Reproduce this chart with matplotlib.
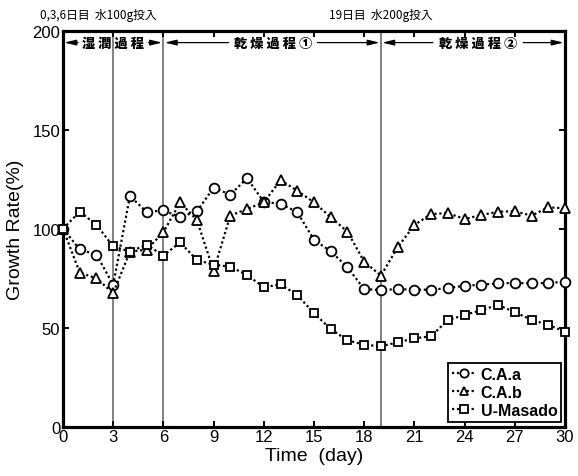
import numpy as np
import matplotlib
matplotlib.use("Agg")
import matplotlib.pyplot as plt

plt.rcParams['font.family'] = ['Liberation Sans', 'Noto Sans CJK JP', 'DejaVu Sans']

# data
days = np.arange(0, 31)
ca_a = [100, 89.5, 86.9, 71.7, 116.5, 108.4, 109.2, 105.9, 108.7, 120.7, 117.2,
        125.5, 113.5, 112.6, 108.4, 94.3, 88.6, 80.5, 69.5, 69.0, 69.5,
        69.2, 69.2, 70.0, 71.2, 71.7, 72.4, 72.6, 72.4, 72.6, 73.2]
ca_b = [100, 77.8, 74.9, 67.5, 88.4, 89.4, 98.2, 113.3, 104.4, 78.8, 106.6,
        110.0, 113.3, 124.5, 119.2, 113.3, 105.8, 98.5, 83.3, 76.3, 90.6,
        101.9, 107.4, 107.9, 104.9, 106.9, 108.6, 108.8, 106.6, 110.8, 110.3]
u_masado = [100, 108.6, 101.9, 91.1, 88.4, 91.9, 86.4, 93.1, 84.2, 81.8, 80.8,
            76.6, 70.4, 71.9, 66.5, 57.3, 49.3, 43.6, 41.4, 40.6, 42.6,
            44.6, 45.7, 53.9, 56.4, 58.9, 61.5, 57.8, 54.0, 51.4, 48.0]

series_names = ['C.A.a', 'C.A.b', 'U-Masado']
markers = ['o', '^', 's']
marker_sizes = [7, 6.8, 5.8]
water_days = [3, 6, 19]

phase_labels = ['湿 潤 過 程', '乾 燥 過 程 ①', '乾 燥 過 程 ②']
phase_bounds = [(0, 6), (6, 19), (19, 30)]
phase_centers = [3.0, 12.55, 24.8]
phase_halfw = [2.1, 2.65, 2.7]

fig = plt.figure(figsize=(5.78, 4.77), dpi=100)
ax = fig.add_axes([0.109, 0.1034, 0.8685, 0.8301])

for d in water_days:
    ax.axvline(d, color='#777777', lw=1.3, zorder=1)

for vals, name, m, ms in zip([ca_a, ca_b, u_masado], series_names, markers, marker_sizes):
    ax.plot(days, vals, linestyle=(0, (1, 1.2)), color='black', lw=1.6, marker=m, ms=ms,
            mfc='white', mec='black', mew=1.3, label=name, zorder=3,
            clip_on=False)

ax.set_xlim(0, 30)
ax.set_ylim(0, 200)
ax.set_xticks(np.arange(0, 31, 3))
ax.set_yticks([0, 50, 100, 150, 200])
ax.tick_params(direction='in', top=True, right=True, length=4.5, width=1.4,
               labelsize=12, pad=2)
for s in ax.spines.values():
    s.set_linewidth(2.3)

ax.set_xlabel('Time  (day)', fontsize=14, labelpad=2)
ax.set_ylabel('Growth Rate(%)', fontsize=14, labelpad=6)

# phase labels with arrows
ya = 194
for lab, (a, b), c, hw in zip(phase_labels, phase_bounds, phase_centers, phase_halfw):
    ax.text(c, ya, lab, ha='center', va='center', fontsize=9.5, fontweight='heavy',
            family=['Noto Sans CJK JP', 'DejaVu Sans'], zorder=4)
    for x0, x1 in [(c - hw, a + 0.08), (c + hw, b - 0.08)]:
        ax.annotate('', xy=(x1, ya), xytext=(x0, ya),
                    arrowprops=dict(arrowstyle='-|>,head_length=0.7,head_width=0.17',
                                    color='black', lw=0.9, shrinkA=0, shrinkB=0))

ax.text(-1.4, 208.3, '0,3,6日目  水100g投入', ha='left', va='center', fontsize=8.5,
        family=['Noto Sans CJK JP', 'DejaVu Sans'], clip_on=False)
ax.text(19, 208.3, '19日目  水200g投入', ha='center', va='center', fontsize=8.5,
        family=['Noto Sans CJK JP', 'DejaVu Sans'], clip_on=False)

leg = ax.legend(loc='lower right', bbox_to_anchor=(0.993, 0.012), borderaxespad=0,
                prop={'weight': 'bold', 'size': 11.5}, handlelength=1.5,
                handletextpad=0.3, labelspacing=0.2, borderpad=0.25,
                fancybox=False, framealpha=1)
leg.get_frame().set_edgecolor('black')
leg.get_frame().set_linewidth(1.3)
for h in leg.legend_handles:
    h.set_markersize(6)

fig.savefig('out.png', dpi=100)
